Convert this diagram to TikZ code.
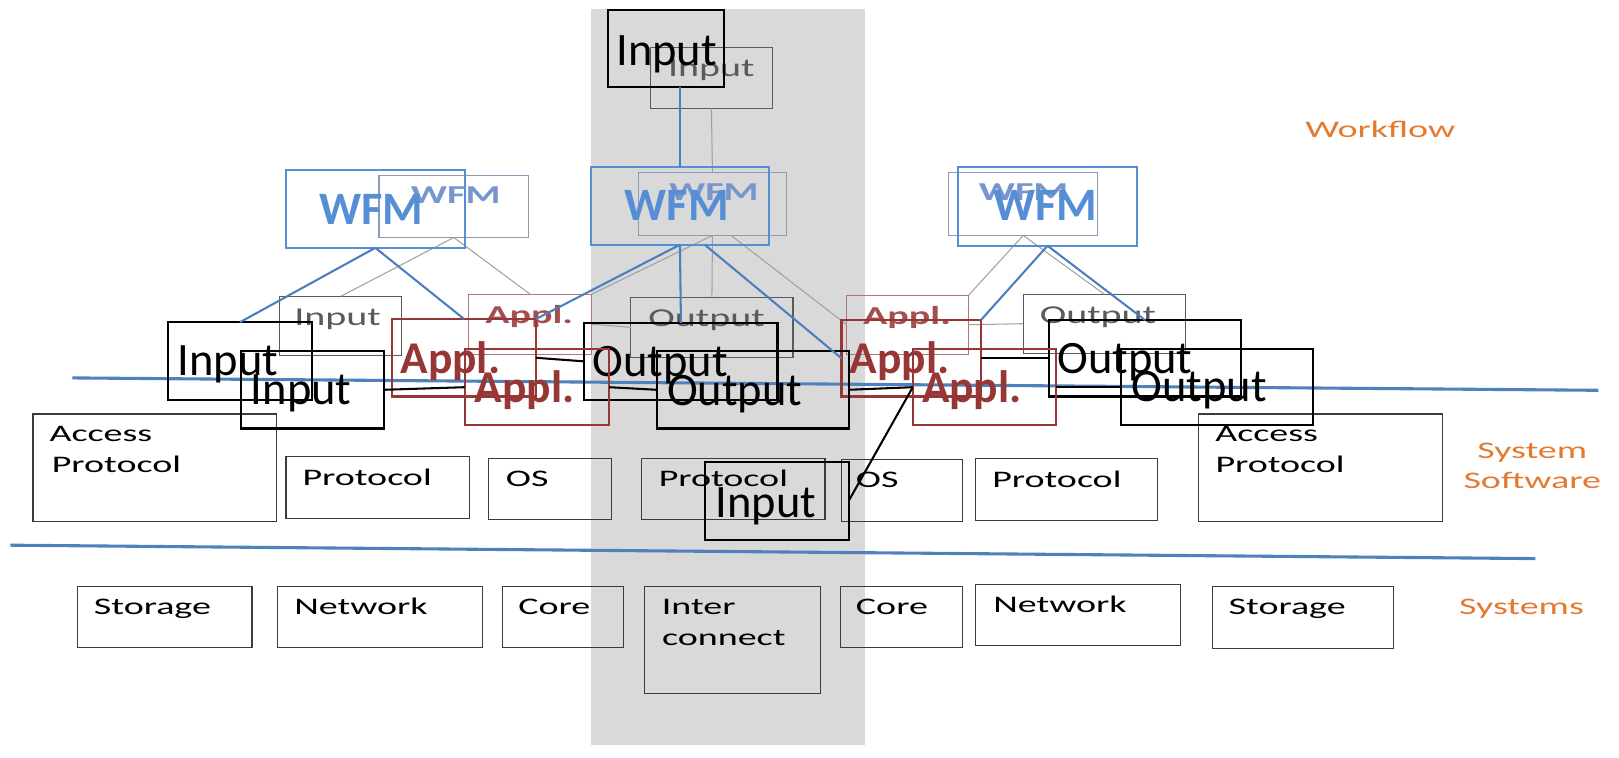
\documentclass[tikz,border=0pt]{standalone}
\usepackage{fontspec}
\setmainfont{Carlito}
\newfontfamily\widefont[FakeStretch=1.6]{Carlito}
\newfontfamily\faintfont[FakeStretch=1.55]{Carlito}
\usetikzlibrary{fit,calc}
\definecolor{bandgray}{RGB}{217,217,217}
\definecolor{sepblue}{RGB}{79,129,189}
\definecolor{linkblue}{RGB}{74,126,190}
\definecolor{wfmblue}{RGB}{85,142,213}
\definecolor{wfmfaint}{RGB}{120,150,205}
\definecolor{wfmfaintbox}{RGB}{140,155,180}
\definecolor{applred}{RGB}{150,55,53}
\definecolor{applfaint}{RGB}{165,80,80}
\definecolor{applfaintbox}{RGB}{175,120,120}
\definecolor{boxgray}{RGB}{60,60,60}
\definecolor{faintgray}{RGB}{90,90,90}
\definecolor{faintline}{RGB}{160,160,160}
\definecolor{layerorange}{RGB}{228,122,48}
\tikzset{
  lowbox/.style={draw=boxgray, line width=1.1pt},
  faintbox/.style={draw=faintgray, line width=1.1pt},
  faintwfm/.style={draw=wfmfaintbox, line width=1.1pt},
  faintappl/.style={draw=applfaintbox, line width=1.1pt},
  boldbox/.style={draw=black, line width=2pt},
  boldappl/.style={draw=applred, line width=2pt},
  boldwfm/.style={draw=wfmblue, line width=2pt},
  lowtext/.style={font=\widefont\fontsize{23}{28}\selectfont, text=black},
  layertext/.style={font=\widefont\fontsize{23}{28}\selectfont, text=layerorange},
  faintin/.style={font=\faintfont\fontsize{25}{30}\selectfont, text=faintgray},
  faintappltext/.style={font=\faintfont\bfseries\fontsize{25}{30}\selectfont, text=applfaint},
  faintwfmtext/.style={font=\faintfont\bfseries\fontsize{25}{30}\selectfont, text=wfmfaint},
  boldtext/.style={font=\fontsize{45}{54}\selectfont, text=black},
  appltext/.style={font=\bfseries\fontsize{44}{52}\selectfont, text=applred},
  wfmtext/.style={font=\bfseries\fontsize{45}{54}\selectfont, text=wfmblue},
  sepline/.style={draw=sepblue, line width=3pt},
  blueline/.style={draw=linkblue, line width=2pt},
  faintlink/.style={draw=faintline, line width=1pt},
  blacklink/.style={draw=black, line width=2pt},
}
\newcommand\bx[9]{%
  \node[#6, inner sep=0pt, outer sep=0pt, fit={(#2,#3) (#4,#5)}] (#1) {};
  \node[#7, anchor=base west, inner sep=0pt, outer sep=0pt] (#1-t) at ($(#1.north west)+(#8)$) {#9};}
\begin{document}
\begin{tikzpicture}[x=1pt,y=-1pt]
\useasboundingbox (0,0) rectangle (1568,734);
\fill[white] (0,0) rectangle (1568,734);
% grey band
\fill[bandgray] (572,9) rectangle (838,722);
% layer separators
\draw[sepline] (70,366) -- (1548,378);
\draw[sepline] (10,528) -- (1487,541);
% layer labels
\node[layertext, anchor=base west, inner sep=0pt] (lblWf) at (1264,133) {Workflow};
\node[layertext, anchor=base, inner sep=0pt] (lblSys1) at (1484,444) {System};
\node[layertext, anchor=base, inner sep=0pt] (lblSys2) at (1484,473) {Software};
\node[layertext, anchor=base west, inner sep=0pt] (lblSyst) at (1413,595) {Systems};
% faint layer
\bx{fIn0}{630}{46}{748}{105}{faintbox}{faintin}{17,28}{Input}
\bx{fWL}{367}{170}{512}{230}{faintwfm}{faintwfmtext}{31,27}{WFM}
\bx{fWC}{618}{167}{762}{228}{faintwfm}{faintwfmtext}{30,27}{WFM}
\bx{fWR}{919}{167}{1063}{228}{faintwfm}{faintwfmtext}{29,27}{WFM}
\bx{fInL}{271}{287}{389}{344}{faintbox}{faintin}{14,28}{Input}
\bx{fApL}{454}{285}{573}{343}{faintappl}{faintappltext}{16,28}{Appl.}
\bx{fOutC}{611}{288}{768}{346}{faintbox}{faintin}{17,28}{Output}
\bx{fApR}{820}{286}{938}{343}{faintappl}{faintappltext}{16,28}{Appl.}
\bx{fOutR}{991}{285}{1148}{342}{faintbox}{faintin}{16,28}{Output}
\draw[faintlink] (fIn0.south) -- (fWC.north);
\draw[faintlink] (fWC.south) -- (fOutC.north);
\draw[faintlink] (fWC.south) -- (fApL.north east);
\draw[faintlink] ([xshift=18pt]fWC.south) -- (fApR.west);
\draw[faintlink] (fWL.south) -- (fInL.north);
\draw[faintlink] (fWL.south) -- (fApL.north);
\draw[faintlink] (fWR.south) -- (fApR.north east);
\draw[faintlink] (fWR.south) -- (fOutR.north);
\draw[faintlink] (fApL.east) -- (fOutC.west);
\draw[faintlink] (fApR.east) -- (fOutR.west);
% system software row
\bx{acL}{32}{401}{268}{505}{lowbox}{lowtext}{16,27}{Access}
\node[lowtext, anchor=base west, inner sep=0pt] (acL-t2) at ($(acL.north west)+(18,57)$) {Protocol};
\bx{prL}{277}{442}{455}{502}{lowbox}{lowtext}{16,28}{Protocol}
\bx{osL}{473}{444}{592}{503}{lowbox}{lowtext}{17,27}{OS}
\bx{prC}{621}{444}{799}{503}{lowbox}{lowtext}{17,27}{Protocol}
\bx{osR}{815}{445}{932}{505}{lowbox}{lowtext}{14,27}{OS}
\bx{prR}{945}{444}{1121}{504}{lowbox}{lowtext}{16,28}{Protocol}
\bx{acR}{1161}{401}{1397}{505}{lowbox}{lowtext}{16,27}{Access}
\node[lowtext, anchor=base west, inner sep=0pt] (acR-t2) at ($(acR.north west)+(16,57)$) {Protocol};
% systems row
\bx{stL}{75}{568}{244}{627}{lowbox}{lowtext}{16,27}{Storage}
\bx{nwL}{269}{568}{467}{627}{lowbox}{lowtext}{16,27}{Network}
\bx{coL}{487}{568}{604}{627}{lowbox}{lowtext}{15,27}{Core}
\bx{ic}{624}{568}{795}{672}{lowbox}{lowtext}{17,27}{Inter}
\node[lowtext, anchor=base west, inner sep=0pt] (ic-t2) at ($(ic.north west)+(17,57)$) {connect};
\bx{coR}{814}{568}{932}{627}{lowbox}{lowtext}{15,27}{Core}
\bx{nwR}{945}{566}{1143}{625}{lowbox}{lowtext}{17,27}{Network}
\bx{stR}{1174}{568}{1350}{628}{lowbox}{lowtext}{16,27}{Storage}
% bold layer
\bx{bIn0}{589}{10}{701}{84}{boldbox}{boldtext}{8,53}{Input}
\bx{bWL}{277}{165}{450}{240}{boldwfm}{wfmtext}{32,52}{WFM}
\bx{bWC}{572}{162}{745}{237}{boldwfm}{wfmtext}{33,52}{WFM}
\bx{bWR}{928}{162}{1101}{238}{boldwfm}{wfmtext}{34,52}{WFM}
\bx{bInA}{163}{312}{302}{387}{boldbox}{boldtext}{9,52}{Input}
\bx{bApA}{380}{309}{519}{384}{boldappl}{appltext}{8,53}{Appl.}
\bx{bOutA}{566}{313}{753}{387}{boldbox}{boldtext}{8,52}{Output}
\bx{bApAR}{815}{310}{950}{384}{boldappl}{appltext}{8,52}{Appl.}
\bx{bOutAR}{1016}{310}{1202}{384}{boldbox}{boldtext}{8,52}{Output}
\bx{bInB}{233}{340}{372}{415}{boldbox}{boldtext}{10,52}{Input}
\bx{bApB}{450}{338}{590}{412}{boldappl}{appltext}{10,52}{Appl.}
\bx{bOutB}{636}{340}{822}{415}{boldbox}{boldtext}{10,53}{Output}
\bx{bApBR}{884}{338}{1023}{412}{boldappl}{appltext}{9,52}{Appl.}
\bx{bOutBR}{1086}{338}{1272}{412}{boldbox}{boldtext}{10,51}{Output}
\bx{bInX}{683}{447}{822}{523}{boldbox}{boldtext}{10,54}{Input}
% blue workflow links
\draw[blueline] (bWC.north |- bIn0.south) -- (bWC.north);
\draw[blueline] (bWL.south) -- (bInA.north);
\draw[blueline] (bWL.south) -- (bApA.north);
\draw[blueline] (bWC.south) -- (bOutA.north);
\draw[blueline] (bWC.south) -- (bApA.north east);
\draw[blueline] ([xshift=24pt]bWC.south) -- (bApAR.west);
\draw[blueline] (bWR.south) -- (bApAR.north east);
\draw[blueline] (bWR.south) -- (bOutAR.north);
% black data links
\draw[blacklink] (bInB.east) -- (bApB.west);
\draw[blacklink] (bApA.east) -- (bOutA.west);
\draw[blacklink] (bApB.east) -- (bOutB.west);
\draw[blacklink] (bApAR.east) -- (bOutAR.west);
\draw[blacklink] (bApBR.east) -- (bOutBR.west);
\draw[blacklink] (bOutB.east) -- (bApBR.west);
\draw[blacklink] (bInX.east) -- (bApBR.west);
\end{tikzpicture}
\end{document}
